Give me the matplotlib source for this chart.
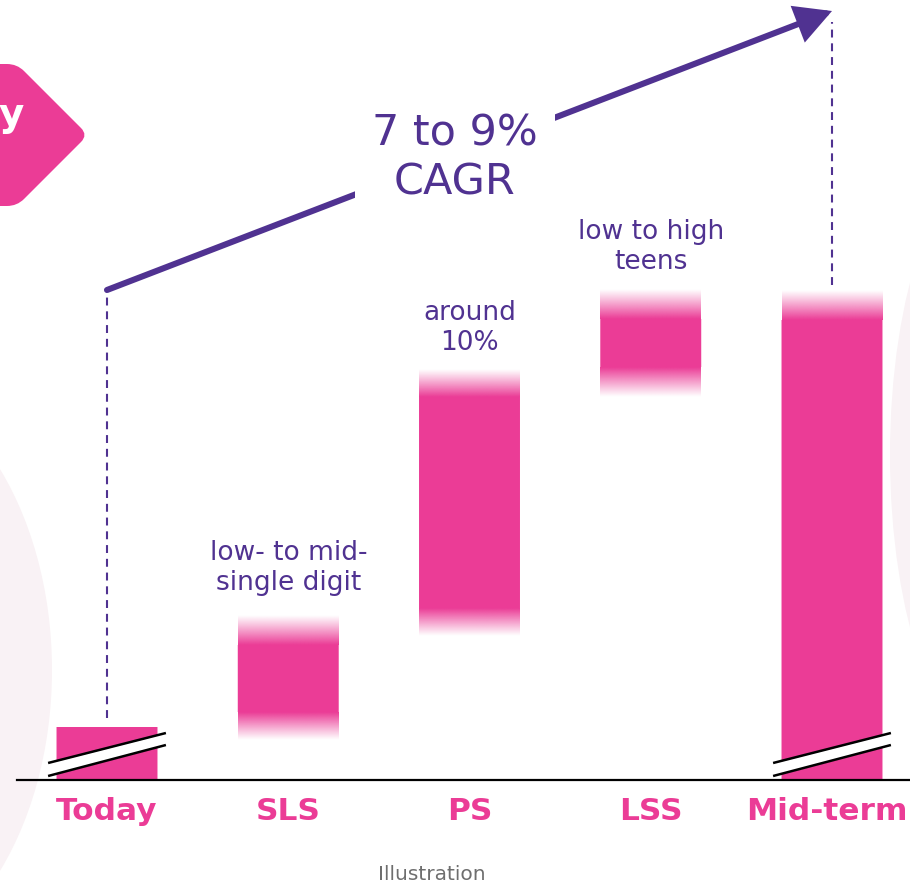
import numpy as np
import matplotlib
matplotlib.use("Agg")
import matplotlib.pyplot as plt
from matplotlib.patches import Ellipse, PathPatch
from matplotlib.path import Path

# ---------------- data ----------------
categories = ["Today", "SLS", "PS", "LSS", "Mid-term"]
range_low = [0, 68, 172, 413, 0]        # solid part bottom (chart units above baseline)
range_high = [53, 135, 383, 461, 460]   # solid part top
fade_top = [0, 30, 28, 30, 30]          # fuzzy (uncertain) extension above
fade_bottom = [0, 28, 28, 30, 0]        # fuzzy extension below
annotations = ["", "low- to mid-\nsingle digit", "around\n10%", "low to high\nteens", ""]
annot_y = [0, 212, 452, 533, 0]
cagr_label = "7 to 9%\nCAGR"
cagr_start = 490   # arrow start level (above Today)
cagr_end = 769     # arrow end level (above Mid-term)
footnote = "Illustration"

PINK = "#EB3C96"
PURPLE = "#503291"
BG = "#F9F2F5"

fig = plt.figure(figsize=(9.1, 8.85), dpi=100)

# background decoration axes (pixel coordinates)
bg = fig.add_axes([0, 0, 1, 1], zorder=0)
bg.set_xlim(0, 910)
bg.set_ylim(885, 0)
bg.axis("off")
bg.add_patch(Ellipse((-150, 670), 404, 600, facecolor=BG, edgecolor="none"))
bg.add_patch(Ellipse((1000, 455), 220, 600, facecolor=BG, edgecolor="none"))

# pink rounded arrow tag top-left
verts = [(-100, 64), (7, 64), (17, 64), (24, 71), (81, 128), (88, 135), (81, 142),
         (24, 199), (17, 206), (7, 206), (-100, 206), (-100, 64)]
codes = [Path.MOVETO, Path.LINETO, Path.CURVE3, Path.CURVE3, Path.LINETO, Path.CURVE3,
         Path.CURVE3, Path.LINETO, Path.CURVE3, Path.CURVE3, Path.LINETO, Path.CLOSEPOLY]
bg.add_patch(PathPatch(Path(verts, codes), facecolor=PINK, edgecolor="none"))
bg.text(-1, 126, "y", color="white", fontsize=28, fontweight="bold",
        ha="left", va="baseline")

# main axes
ax = fig.add_axes([0, 0, 1, 1], zorder=1)
ax.patch.set_alpha(0)
ax.axis("off")

x = np.arange(len(categories))
width = 0.557
pink_rgb = matplotlib.colors.to_rgb(PINK)
x_right = (908 - 107) / 181.25


def gradient(x0, x1, y0, y1, upward):
    n = 64
    t = np.linspace(0, 1, n)
    alpha = (1 - t) ** 1.05
    if not upward:
        alpha = alpha[::-1]
    img = np.zeros((n, 2, 4))
    img[..., :3] = pink_rgb
    img[..., 3] = alpha[:, None]
    ax.imshow(img, extent=[x0, x1, y0, y1], origin="lower", aspect="auto",
              interpolation="bilinear", zorder=2)


bars = ax.bar(x, np.array(range_high) - np.array(range_low), bottom=range_low,
              width=width, color=PINK, zorder=2, lw=0)
for b in bars:
    b.set_snap(False)
for i in range(len(categories)):
    if fade_top[i]:
        gradient(x[i] - width / 2, x[i] + width / 2, range_high[i],
                 range_high[i] + fade_top[i], True)
    if fade_bottom[i]:
        gradient(x[i] - width / 2, x[i] + width / 2, range_low[i] - fade_bottom[i],
                 range_low[i], False)
    if annotations[i]:
        ax.text(x[i], annot_y[i], annotations[i], ha="center", va="center",
                color=PURPLE, fontsize=19, linespacing=1.2, zorder=5)
    if i == len(categories) - 1:
        ax.text(x_right, -32, categories[i], ha="right", va="center", color=PINK,
                fontsize=22.5, fontweight="bold", zorder=5)
    else:
        ax.text(x[i], -32, categories[i], ha="center", va="center", color=PINK,
                fontsize=22.5, fontweight="bold", zorder=5)

# axis break marks on Today and Mid-term
for i in (0, len(categories) - 1):
    bx = np.array([-0.325, 0.325]) + x[i]
    upper = np.array([17, 47])
    lower = np.array([4, 35])
    ax.fill_between(bx, lower, upper, color="white", zorder=3, lw=0)
    ax.plot(bx, upper, color="black", lw=1.8, zorder=4, solid_capstyle="butt")
    ax.plot(bx, lower, color="black", lw=1.8, zorder=4, solid_capstyle="butt")

# baseline
ax.plot([(17 - 107) / 181.25, 5], [0, 0], color="black", lw=1.6, zorder=4)

# dashed guide lines
ax.plot([x[0], x[0]], [range_high[0] + 9, cagr_start], color=PURPLE, lw=1.5,
        ls=(0, (3.8, 2.8)), zorder=4)
ax.plot([x[-1], x[-1]], [range_high[-1] + 35, cagr_end - 11], color=PURPLE, lw=1.5,
        ls=(0, (3.8, 2.8)), zorder=4)

# CAGR arrow
ax.annotate("", xy=(x[-1], cagr_end), xytext=(x[0], cagr_start),
            arrowprops=dict(arrowstyle="-|>,head_length=1.4,head_width=0.75",
                            color=PURPLE, lw=4.4, shrinkA=0, shrinkB=0,
                            mutation_scale=14, joinstyle="miter"),
            zorder=4)
ax.text(1.92, 622, cagr_label, ha="center", va="center", color=PURPLE,
        fontsize=31, linespacing=1.2, zorder=6,
        bbox=dict(boxstyle="square,pad=0.4", facecolor="white", edgecolor="none"))

ax.text(1.793, -94, footnote, ha="center", va="center", color="#6E6E6E",
        fontsize=14.5, zorder=5)

ax.set_xlim((0 - 107) / 181.25, (910 - 107) / 181.25)
ax.set_ylim(-105, 780)

fig.savefig("out.png", dpi=100)
